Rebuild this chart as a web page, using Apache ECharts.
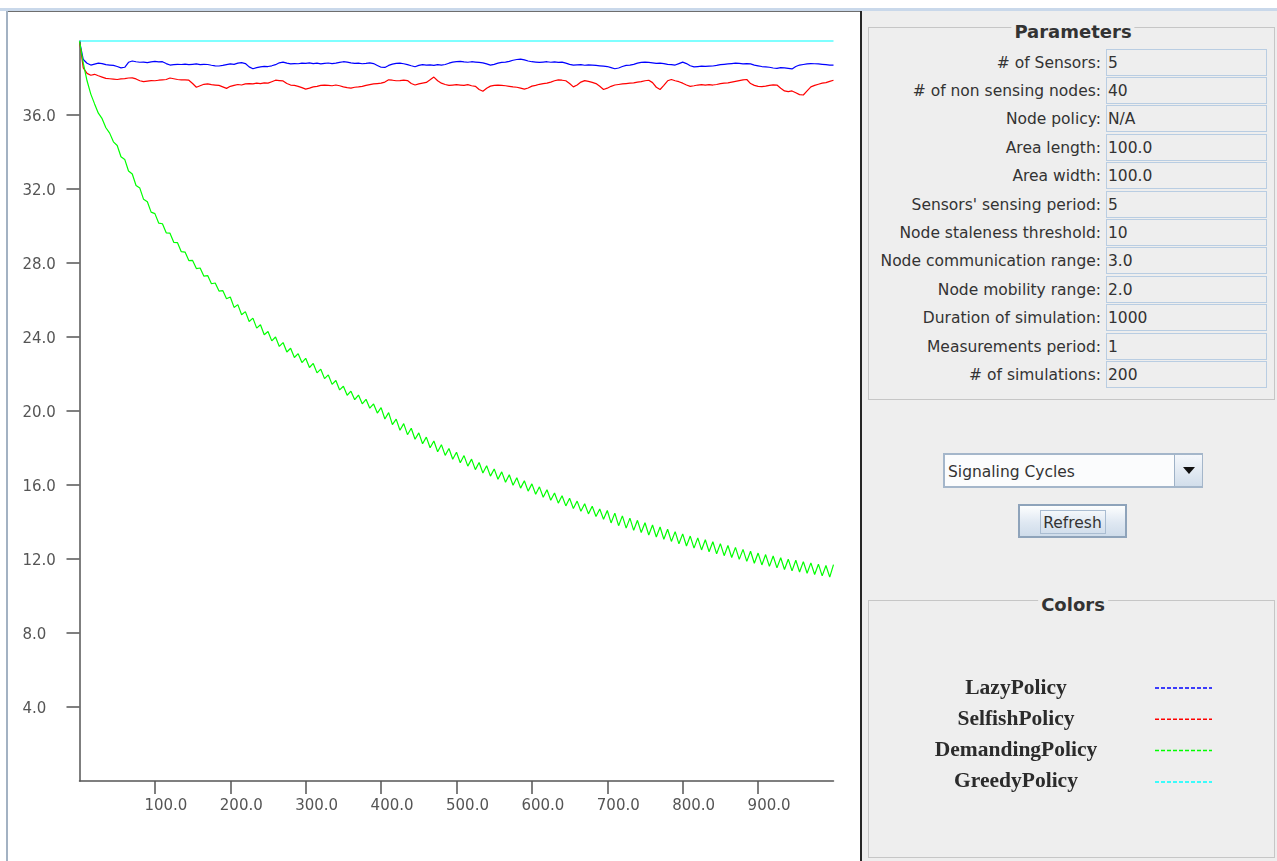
<!DOCTYPE html>
<html>
<head>
<meta charset="utf-8">
<script src="https://cdn.jsdelivr.net/npm/echarts@6/dist/echarts.min.js"></script>
<style>
html,body{margin:0;padding:0;width:1277px;height:861px;overflow:hidden;background:#fff;font-family:"DejaVu Sans",sans-serif;}
#chart{position:absolute;left:0;top:0;width:1277px;height:861px;z-index:5;}
.abs{position:absolute;}
#topband{left:0;top:8px;width:1277px;height:3px;background:#c9d8ea;}
#topline{left:6px;top:11px;width:1271px;height:1px;background:#6e6e6e;}
#leftline{left:6px;top:11px;width:2px;height:850px;background:#a3b2c3;}
#side{left:860px;top:11px;width:417px;height:850px;background:#eeeeee;border-left:2px solid #262626;box-sizing:border-box;}
.tb{position:absolute;border:1px solid #c6c6c6;box-sizing:border-box;}
.tbt{position:absolute;font-weight:bold;font-size:18px;color:#333;background:#eee;padding:0 3px;transform:translate(-50%,-50%);white-space:nowrap;line-height:20px;}
.plbl{position:absolute;right:176px;height:27px;line-height:29px;font-size:15.5px;color:#333;white-space:nowrap;text-align:right;}
.pval{position:absolute;left:1106px;width:161px;height:27px;line-height:27px;border:1px solid #b9cde2;box-sizing:border-box;padding-left:1px;font-size:15.5px;color:#333;white-space:nowrap;}
#combo{left:943px;top:453px;width:260px;height:35px;border:2px solid #a4b6ca;box-sizing:border-box;background:#fbfcfd;}
#combotext{left:948px;top:455px;height:35px;line-height:35px;font-size:15.5px;color:#333;}
#arrowbtn{left:1174px;top:455px;width:27px;height:31px;border-left:1px solid #9fb2c7;background:linear-gradient(#f4f7fb,#d2deeb);}
#arrow{left:1183px;top:467px;width:0;height:0;border-left:6px solid transparent;border-right:6px solid transparent;border-top:7px solid #111;}
#btn{left:1018px;top:504px;width:109px;height:34px;border:2px solid #8ea3ba;box-sizing:border-box;background:linear-gradient(#fdfefe,#dfe8f2 55%,#cfdcea);}
#btnfocus{left:1040px;top:510px;width:66px;height:24px;border:1px solid #a9bcd1;box-sizing:border-box;}
#btntext{left:1018px;top:506px;width:109px;height:34px;line-height:34px;text-align:center;font-size:15.5px;color:#333;}
</style>
</head>
<body>
<div id="topband" class="abs"></div>
<div id="topline" class="abs"></div>
<div id="leftline" class="abs"></div>
<div id="side" class="abs"></div>
<div id="panel"></div>
<div id="chart"></div>
<script>
// ---------------- data ----------------
const SAMPLE_STEP = 5; // simulation time between stored samples
const policyNames = ['LazyPolicy', 'SelfishPolicy', 'DemandingPolicy', 'GreedyPolicy'];
const policyColors = ['#0000ff', '#ff0000', '#00ff00', '#00ffff'];

const lazyValues = [
40.0,39.0,38.8,38.7,38.75,38.8,38.78,38.72,38.7,38.68,
38.62,38.55,38.58,38.85,38.92,38.88,38.85,38.86,38.83,38.87,
38.9,38.87,38.88,38.78,38.7,38.72,38.74,38.73,38.75,38.72,
38.74,38.76,38.72,38.74,38.73,38.69,38.66,38.65,38.68,38.72,
38.76,38.74,38.8,38.83,38.78,38.6,38.5,38.56,38.6,38.63,
38.62,38.66,38.72,38.82,38.86,38.8,38.76,38.78,38.77,38.8,
38.79,38.82,38.78,38.8,38.76,38.79,38.81,38.78,38.8,38.84,
38.88,38.86,38.82,38.79,38.8,38.77,38.79,38.82,38.78,38.68,
38.58,38.57,38.68,38.75,38.79,38.8,38.77,38.72,38.66,38.61,
38.68,38.72,38.7,38.71,38.68,38.72,38.7,38.73,38.8,38.86,
38.88,38.9,38.87,38.85,38.88,38.86,38.84,38.82,38.76,38.7,
38.74,38.8,38.84,38.86,38.9,38.96,39.0,39.02,38.98,38.92,
38.88,38.86,38.84,38.86,38.88,38.85,38.87,38.84,38.86,38.8,
38.74,38.7,38.71,38.72,38.69,38.71,38.7,38.68,38.66,38.64,
38.62,38.56,38.5,38.54,38.62,38.68,38.7,38.74,38.8,38.84,
38.86,38.84,38.82,38.79,38.8,38.78,38.74,38.72,38.7,38.78,
38.86,38.78,38.66,38.6,38.62,38.64,38.63,38.64,38.65,38.68,
38.72,38.74,38.76,38.78,38.8,38.79,38.76,38.78,38.76,38.7,
38.66,38.62,38.6,38.58,38.54,38.52,38.56,38.55,38.52,38.49,
38.62,38.7,38.73,38.76,38.78,38.77,38.76,38.74,38.72,38.7,
38.7];

const selfishValues = [
40.0,38.55,38.25,38.15,38.2,38.12,38.05,37.98,37.96,37.94,
37.92,37.95,37.97,38.0,38.01,37.95,37.85,37.8,37.83,37.86,
37.85,37.88,37.9,37.92,38.0,37.96,37.92,37.9,37.9,37.88,
37.7,37.5,37.58,37.66,37.68,37.64,37.62,37.6,37.52,37.44,
37.55,37.6,37.65,37.62,37.68,37.7,37.68,37.72,37.7,37.74,
37.72,37.8,37.88,37.86,37.84,37.7,37.62,37.6,37.55,37.48,
37.4,37.45,37.52,37.55,37.6,37.62,37.6,37.58,37.62,37.58,
37.52,37.48,37.45,37.5,37.52,37.55,37.6,37.64,37.68,37.7,
37.72,37.78,37.9,37.88,37.85,37.86,37.88,37.86,37.7,37.62,
37.68,37.72,37.76,37.9,38.05,37.85,37.72,37.65,37.6,37.62,
37.64,37.62,37.6,37.64,37.58,37.55,37.38,37.28,37.45,37.56,
37.6,37.62,37.6,37.58,37.55,37.52,37.5,37.45,37.4,37.46,
37.56,37.6,37.66,37.7,37.72,37.78,37.85,37.9,37.88,37.85,
37.7,37.52,37.62,37.78,37.86,37.82,37.76,37.7,37.55,37.38,
37.45,37.55,37.62,37.65,37.68,37.7,37.72,37.74,37.78,37.8,
37.85,37.88,37.75,37.5,37.38,37.6,37.85,37.92,37.85,37.8,
37.72,37.62,37.55,37.58,37.62,37.64,37.62,37.64,37.62,37.65,
37.7,37.72,37.74,37.78,37.82,37.86,37.9,37.92,37.7,37.6,
37.55,37.53,37.56,37.6,37.63,37.62,37.45,37.3,37.26,37.3,
37.2,37.1,37.08,37.3,37.52,37.6,37.66,37.72,37.75,37.82,
37.88];

const demandingValues = [
40.0,38.8,37.85,37.13,36.6,36.1,35.8,35.31,35.02,34.55,
34.35,33.74,33.6,32.97,32.81,32.19,32.05,31.44,31.31,30.75,
30.67,30.16,30.12,29.63,29.61,29.12,29.1,28.61,28.59,28.13,
28.14,27.7,27.73,27.29,27.32,26.88,26.92,26.48,26.51,26.07,
26.16,25.6,25.75,25.2,25.37,24.84,25.02,24.48,24.66,24.12,
24.3,23.79,24.0,23.49,23.7,23.19,23.39,22.89,23.1,22.62,
22.85,22.35,22.57,22.06,22.26,21.75,21.95,21.44,21.65,21.14,
21.34,20.85,21.07,20.61,20.86,20.39,20.63,20.15,20.38,19.89,
20.18,19.57,19.91,19.26,19.56,18.96,19.32,18.72,19.07,18.47,
18.82,18.23,18.59,18.01,18.38,17.8,18.18,17.6,17.97,17.39,
17.77,17.2,17.59,17.02,17.4,16.83,17.22,16.65,17.04,16.48,
16.87,16.31,16.71,16.15,16.55,15.99,16.39,15.83,16.23,15.67,
16.06,15.5,15.9,15.34,15.74,15.18,15.57,15.02,15.42,14.87,
15.28,14.73,15.13,14.58,14.99,14.44,14.85,14.3,14.7,14.15,
14.62,13.95,14.48,13.8,14.33,13.67,14.21,13.55,14.09,13.43,
13.96,13.3,13.84,13.19,13.73,13.07,13.61,12.95,13.48,12.82,
13.36,12.7,13.24,12.59,13.14,12.49,13.04,12.39,12.93,12.28,
12.83,12.18,12.73,12.08,12.63,11.98,12.52,11.87,12.42,11.77,
12.32,11.68,12.24,11.6,12.16,11.52,12.07,11.43,11.99,11.36,
11.93,11.3,11.86,11.23,11.79,11.16,11.72,11.09,11.65,11.02,
11.7];

const greedyTimes = [0, 1000];
const greedyValues = [40, 40];

const xTickValues = [100, 200, 300, 400, 500, 600, 700, 800, 900];
const yTickValues = [4, 8, 12, 16, 20, 24, 28, 32, 36];

const paramLabels = ['# of Sensors:', '# of non sensing nodes:', 'Node policy:', 'Area length:', 'Area width:',
  "Sensors' sensing period:", 'Node staleness threshold:', 'Node communication range:', 'Node mobility range:',
  'Duration of simulation:', 'Measurements period:', '# of simulations:'];
const paramValues = ['5', '40', 'N/A', '100.0', '100.0', '5', '10', '3.0', '2.0', '1000', '1', '200'];
const comboText = 'Signaling Cycles';
const buttonText = 'Refresh';
const panelTitles = ['Parameters', 'Colors'];

// ---------------- side panel (Swing-like UI) ----------------
(function buildPanel() {
  const p = document.getElementById('panel');
  let h = '';
  h += '<div class="tb" style="left:868px;top:27px;width:407px;height:373px;"></div>';
  h += '<div class="tbt" style="left:1073px;top:32px;">' + panelTitles[0] + '</div>';
  for (let i = 0; i < paramLabels.length; i++) {
    const top = 48.5 + 28.4 * i;
    h += '<div class="plbl" style="top:' + top + 'px;">' + paramLabels[i] + '</div>';
    h += '<div class="pval" style="top:' + top + 'px;">' + paramValues[i] + '</div>';
  }
  h += '<div id="combo" class="abs"></div>';
  h += '<div id="combotext" class="abs">' + comboText + '</div>';
  h += '<div id="arrowbtn" class="abs"></div><div id="arrow" class="abs"></div>';
  h += '<div id="btn" class="abs"></div><div id="btnfocus" class="abs"></div>';
  h += '<div id="btntext" class="abs">' + buttonText + '</div>';
  h += '<div class="tb" style="left:868px;top:600px;width:407px;height:258px;"></div>';
  h += '<div class="tbt" style="left:1073px;top:605px;">' + panelTitles[1] + '</div>';
  p.innerHTML = h;
})();

// ---------------- chart ----------------
const pairs = vals => vals.map((v, i) => [i * SAMPLE_STEP, v]);
const seriesValues = [pairs(lazyValues), pairs(selfishValues), pairs(demandingValues),
  greedyTimes.map((t, i) => [t, greedyValues[i]])];

const axisColor = '#555555';
const chart = echarts.init(document.getElementById('chart'), null, { renderer: 'canvas' });
chart.setOption({
  animation: false,
  backgroundColor: 'transparent',
  grid: { left: 79.5, top: 41, width: 754, height: 740, containLabel: false, outerBoundsMode: 'none' },
  xAxis: {
    type: 'value', min: 0, max: 1000, interval: 100,
    axisLine: { show: true, onZero: false, lineStyle: { color: axisColor, width: 1.5 } },
    axisTick: { show: true, inside: false, length: 13, customValues: xTickValues, lineStyle: { color: axisColor, width: 1.5 } },
    axisLabel: {
      customValues: xTickValues, margin: 18, align: 'center',
      formatter: v => '{a|' + v.toFixed(1) + '}',
      rich: { a: { width: 21, align: 'left', fontFamily: 'DejaVu Sans', fontSize: 15, color: axisColor } }
    },
    splitLine: { show: false }
  },
  yAxis: {
    type: 'value', min: 0, max: 40, interval: 4,
    axisLine: { show: true, onZero: false, lineStyle: { color: axisColor, width: 1.5 } },
    axisTick: { show: true, inside: false, length: 13, customValues: yTickValues, lineStyle: { color: axisColor, width: 1.5 } },
    axisLabel: {
      customValues: yTickValues, margin: 57, align: 'left',
      formatter: v => '{a|' + v.toFixed(1) + '}',
      rich: { a: { fontFamily: 'DejaVu Sans', fontSize: 15, color: axisColor, padding: [4, 0, 0, 0] } }
    },
    splitLine: { show: false }
  },
  legend: {
    orient: 'vertical', left: 877, top: 672, align: 'right',
    itemGap: 9.3, itemWidth: 57, itemHeight: 14, selectedMode: false,
    data: policyNames,
    formatter: n => '{t|' + n + '}',
    itemStyle: { opacity: 0 },
    lineStyle: { type: [4, 2], width: 1.5 },
    textStyle: { rich: { t: { width: 268, align: 'center', fontFamily: 'Liberation Serif', fontWeight: 'bold', fontSize: 21.5, color: '#2b2b2b', lineHeight: 20 } } }
  },
  series: policyNames.map((name, i) => ({
    name: name, type: 'line', data: seriesValues[i], symbol: 'none', showSymbol: false,
    silent: true, clip: i !== 3,
    color: policyColors[i],
    lineStyle: { color: policyColors[i], width: 1.2 },
    emphasis: { disabled: true }
  }))
});
</script>
</body>
</html>
